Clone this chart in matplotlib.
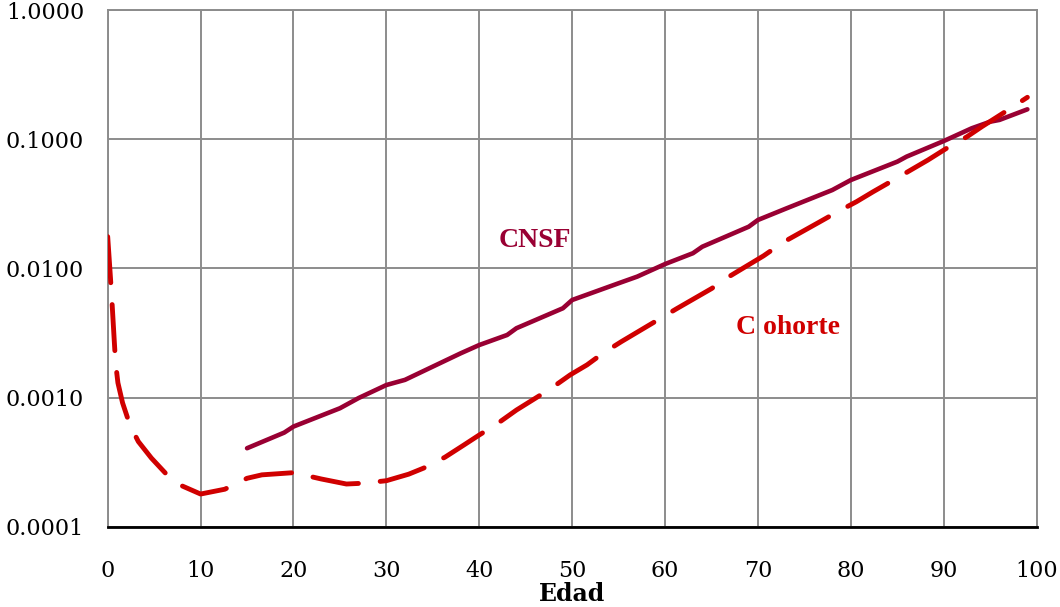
import matplotlib
matplotlib.use("Agg")
import matplotlib.pyplot as plt
from matplotlib.ticker import FixedLocator, FuncFormatter

# Tasas de mortalidad (escala log)
edad_cnsf = [15, 19, 20, 25, 27, 30, 32, 38, 40, 43, 44, 49, 50, 55, 57, 60,
             63, 64, 69, 70, 73, 78, 80, 85, 86, 90, 93, 95, 96, 99]
q_cnsf = [0.000405, 0.000535, 0.000596, 0.000826, 0.00099, 0.00125, 0.00137,
          0.0022, 0.00255, 0.00305, 0.00344, 0.00491, 0.00569, 0.00767,
          0.00863, 0.0108, 0.0131, 0.0147, 0.021, 0.0237, 0.029, 0.0404,
          0.0483, 0.067, 0.0733, 0.0968, 0.1214, 0.1366, 0.141, 0.1703]

edad_cohorte = [0, 0.3, 0.45, 0.7, 0.85, 1.1, 1.6, 2.4, 3.3, 4.7, 6.5, 7.8, 10,
                12.6, 15, 16.6, 20, 23, 25.7, 27.5, 30, 32.4, 34, 36.3, 38.3,
                40, 42, 44, 47.6, 49.8, 51.6, 53.3, 55.3, 59.1, 61.2, 65, 67,
                70.6, 72.7, 76.5, 78.6, 80.6, 82.4, 84.6, 88.3, 90.3, 92.5,
                94.1, 96.2, 99]
q_cohorte = [0.0176, 0.0084, 0.0057, 0.0028, 0.00185, 0.0013, 0.00091, 0.00061,
             0.000456, 0.00034, 0.000247, 0.00021, 0.000179, 0.000195,
             0.000237, 0.000252, 0.000262, 0.000234, 0.000214, 0.000217,
             0.000227, 0.000255, 0.000284, 0.000345, 0.000427, 0.000513,
             0.000632, 0.0008, 0.00116, 0.0015, 0.00179, 0.0022, 0.00271,
             0.00394, 0.00485, 0.00697, 0.00873, 0.0125, 0.0159, 0.0226,
             0.0275, 0.0328, 0.0392, 0.0483, 0.069, 0.085, 0.1045, 0.125,
             0.156, 0.211]

xticks = list(range(0, 101, 10))
yticks = [0.0001, 0.001, 0.01, 0.1, 1.0]

fig = plt.figure(figsize=(10.6, 6.07), dpi=100)
ax = fig.add_axes([0.1016, 0.1323, 0.8764, 0.8512])

ax.plot(edad_cnsf, q_cnsf, color="#990033", lw=3.3, solid_capstyle="round",
        solid_joinstyle="round", zorder=3)
ax.plot(edad_cohorte, q_cohorte, color="#D00000", lw=3.5, dashes=(9.5, 4.5),
        dash_capstyle="round", dash_joinstyle="round", zorder=3)

ax.set_yscale("log")
ax.set_xlim(0, 100)
ax.set_ylim(0.0001, 1.0)
ax.xaxis.set_major_locator(FixedLocator(xticks))
ax.yaxis.set_major_locator(FixedLocator(yticks))
ax.yaxis.set_minor_locator(FixedLocator([]))
ax.yaxis.set_major_formatter(FuncFormatter(lambda v, p: "%.4f" % v))

ax.grid(True, color="#8c8c8c", lw=1.4)
ax.set_axisbelow(True)
for s in ["top", "right", "left"]:
    ax.spines[s].set_color("#8c8c8c")
    ax.spines[s].set_linewidth(1.4)
ax.spines["bottom"].set_color("black")
ax.spines["bottom"].set_linewidth(2)

ax.tick_params(axis="both", length=0, labelsize=16, colors="black")
ax.tick_params(axis="x", pad=24)
ax.tick_params(axis="y", pad=17)
for lab in ax.get_xticklabels() + ax.get_yticklabels():
    lab.set_family("DejaVu Serif")

ax.set_xlabel("Edad", fontsize=17, fontweight="bold", family="DejaVu Serif",
              labelpad=0)

ax.text(46, 0.0165, "CNSF", color="#990033", fontsize=20, fontweight="bold",
        family="Liberation Serif", ha="center", va="center")
ax.text(73.2, 0.0035, "C ohorte", color="#D00000", fontsize=20,
        fontweight="bold", family="Liberation Serif", ha="center", va="center")

fig.savefig("out.png", dpi=100)
